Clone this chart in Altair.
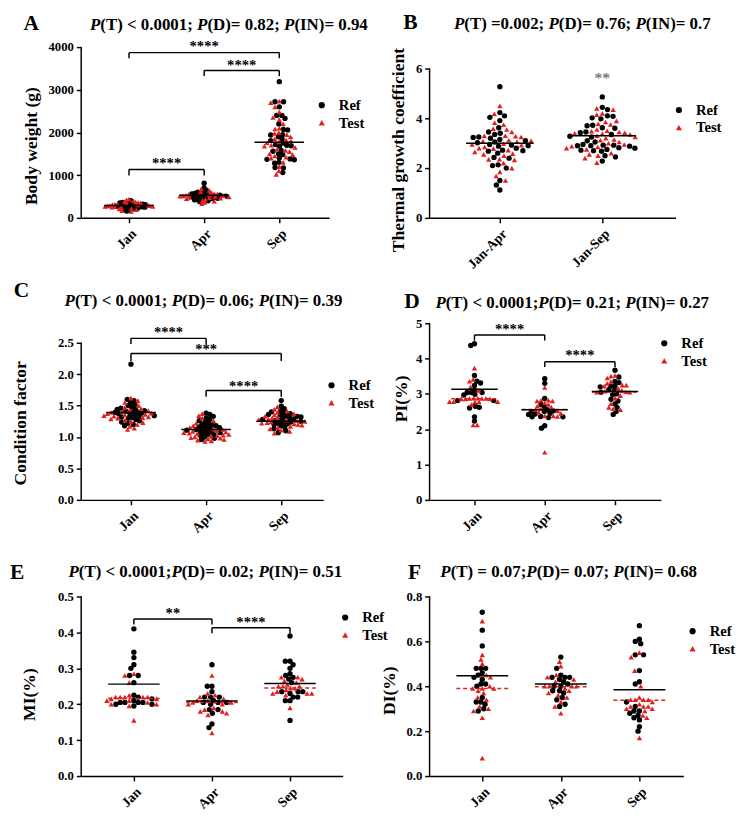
import json
import math
import altair as alt
import pandas as pd

SERIF = "Liberation Serif"
RED = "#e0201f"

CATS3 = ["Jan", "Apr", "Sep"]
CATS2 = ["Jan-Apr", "Jan-Sep"]

# ---------------- Panel A: body weight ----------------
A_JAN_REF = [160, 180, 200, 210, 220, 230, 240, 250, 250, 260, 260, 270, 270, 280, 280, 290, 290,
             300, 300, 310, 310, 320, 320, 330, 340, 350, 360, 380, 400]
A_JAN_TEST = [150, 170, 190, 210, 220, 240, 250, 260, 265, 270, 280, 285, 290, 300, 305, 310, 320,
              330, 340, 350, 360, 370, 380, 400, 420, 440]
A_APR_REF = [810, 700, 650, 620, 600, 580, 570, 560, 550, 540, 530, 530, 520, 510, 500, 500, 490,
             480, 470, 460, 450, 440, 420, 400, 380]
A_APR_TEST = [680, 640, 610, 590, 570, 560, 550, 540, 530, 520, 515, 510, 500, 490, 480, 470, 460,
              450, 430, 410, 390, 360, 330]
A_SEP_REF = [3190, 2720, 2720, 2600, 2400, 2400, 2330, 2200, 2070, 2060, 1950, 1940, 1900, 1850,
             1810, 1750, 1720, 1700, 1690, 1680, 1580, 1560, 1500, 1480, 1400, 1380, 1370, 1360,
             1300, 1280, 1180, 1170, 1060]
A_SEP_TEST = [2730, 2700, 2600, 2480, 2350, 2300, 2200, 2100, 2080, 2000, 1980, 1950, 1900, 1850,
              1820, 1800, 1780, 1760, 1700, 1680, 1650, 1600, 1580, 1550, 1500, 1480, 1450, 1420,
              1400, 1300, 1200, 1100, 1020]
A_MEAN_REF = [290, 530, 1770]
A_YTICKS = [0, 1000, 2000, 3000, 4000]
A_BRACKETS = [(0, 2, 3870, 3740, 4060, "****"), (1, 2, 3450, 3320, 3625, "****"),
              (0, 1, 1135, 995, 1325, "****")]

# ---------------- Panel B: thermal growth coefficient ----------------
B_JA_REF = [5.27, 4.23, 4.10, 4.04, 3.91, 3.62, 3.45, 3.40, 3.35, 3.25, 3.23, 3.20, 3.15, 3.10,
            3.05, 3.02, 2.95, 2.92, 2.90, 2.88, 2.80, 2.72, 2.70, 2.68, 2.60, 2.43, 2.40, 2.13,
            2.10, 2.00, 1.50, 1.32, 1.12]
B_JA_TEST = [4.50, 4.18, 3.82, 3.74, 3.58, 3.55, 3.45, 3.30, 3.30, 3.28, 3.25, 3.12, 3.10, 3.08,
             3.06, 2.98, 2.95, 2.92, 2.85, 2.80, 2.78, 2.72, 2.65, 2.58, 2.55, 2.50, 2.36, 2.35,
             2.33, 2.20, 2.00, 1.85, 1.68, 1.50]
B_JS_REF = [4.86, 4.44, 4.35, 4.10, 4.08, 4.02, 3.98, 3.72, 3.70, 3.62, 3.60, 3.45, 3.42, 3.35,
            3.28, 3.25, 3.10, 3.05, 2.95, 2.92, 2.92, 2.90, 2.90, 2.88, 2.82, 2.80, 2.75, 2.72,
            2.70, 2.68, 2.50, 2.45, 2.28]
B_JS_TEST = [4.40, 4.35, 4.20, 4.15, 3.90, 3.85, 3.78, 3.75, 3.55, 3.50, 3.48, 3.45, 3.42, 3.40,
             3.38, 3.35, 3.30, 3.25, 3.20, 3.15, 3.12, 3.05, 3.00, 2.95, 2.88, 2.85, 2.80, 2.75,
             2.60, 2.55, 2.50, 2.40, 2.22]
B_MEAN_REF = [3.0, 3.3]
B_YTICKS = [0, 2, 4, 6]

# ---------------- Panel C: condition factor ----------------
C_JAN_REF = [2.16, 1.60, 1.58, 1.55, 1.52, 1.50, 1.48, 1.46, 1.45, 1.44, 1.42, 1.41, 1.40, 1.40,
             1.39, 1.38, 1.37, 1.36, 1.35, 1.34, 1.33, 1.32, 1.31, 1.30, 1.28, 1.26, 1.24, 1.22,
             1.20, 1.18]
C_JAN_TEST = [1.62, 1.58, 1.55, 1.50, 1.47, 1.45, 1.43, 1.42, 1.40, 1.39, 1.38, 1.37, 1.36, 1.35,
              1.34, 1.33, 1.32, 1.31, 1.30, 1.29, 1.27, 1.25, 1.23, 1.20, 1.17, 1.14, 1.12]
C_APR_REF = [1.38, 1.36, 1.33, 1.30, 1.28, 1.26, 1.24, 1.22, 1.20, 1.19, 1.18, 1.17, 1.16, 1.15,
             1.14, 1.13, 1.12, 1.11, 1.10, 1.09, 1.08, 1.07, 1.06, 1.05, 1.04, 1.02, 1.00, 0.98,
             0.96]
C_APR_TEST = [1.37, 1.34, 1.30, 1.26, 1.22, 1.18, 1.15, 1.13, 1.12, 1.10, 1.09, 1.08, 1.07, 1.06,
              1.05, 1.04, 1.03, 1.02, 1.01, 1.00, 0.99, 0.98, 0.97, 0.96, 0.95, 0.94, 0.93]
C_SEP_REF = [1.58, 1.49, 1.45, 1.42, 1.40, 1.38, 1.37, 1.36, 1.35, 1.34, 1.33, 1.32, 1.31, 1.30,
             1.29, 1.28, 1.27, 1.26, 1.25, 1.24, 1.23, 1.22, 1.21, 1.20, 1.18, 1.16, 1.13, 1.10,
             1.07]
C_SEP_TEST = [1.48, 1.44, 1.41, 1.39, 1.37, 1.35, 1.33, 1.31, 1.30, 1.29, 1.28, 1.27, 1.26, 1.25,
              1.24, 1.23, 1.22, 1.21, 1.20, 1.19, 1.17, 1.15, 1.13, 1.11, 1.09, 1.06]
C_MEAN_REF = [1.39, 1.12, 1.25]
C_YTICKS = [0, 0.5, 1.0, 1.5, 2.0, 2.5]
C_BRACKETS = [(0, 1, 2.57, 2.48, 2.70, "****"), (0, 2, 2.33, 2.21, 2.43, "***"),
              (1, 2, 1.74, 1.64, 1.84, "****")]

# ---------------- Panel D: PI (%) ----------------
D_JAN_REF = [4.42, 4.37, 3.52, 3.36, 3.31, 3.24, 3.11, 3.04, 3.04, 3.04, 2.99, 2.97, 2.81, 2.81,
             2.65, 2.62, 2.60, 2.35, 2.23]
D_JAN_TEST = [3.73, 3.41, 3.36, 3.20, 3.10, 2.88, 2.88, 2.87, 2.87, 2.87, 2.86, 2.86, 2.86, 2.78,
              2.78, 2.78, 2.77, 2.77, 2.70, 2.12, 2.12]
D_APR_REF = [3.43, 3.30, 2.87, 2.70, 2.62, 2.55, 2.52, 2.50, 2.50, 2.45, 2.43, 2.42, 2.36, 2.35,
             2.35, 2.33, 2.10, 2.03]
D_APR_TEST = [3.18, 2.82, 2.82, 2.80, 2.80, 2.75, 2.70, 2.65, 2.62, 2.58, 2.55, 2.52, 2.48, 2.45,
              2.38, 2.38, 2.36, 1.35]
D_SEP_REF = [3.67, 3.48, 3.35, 3.32, 3.22, 3.22, 3.20, 3.12, 3.10, 3.05, 3.00, 2.98, 2.85, 2.80,
             2.72, 2.62, 2.50, 2.42]
D_SEP_TEST = [3.52, 3.50, 3.45, 3.35, 3.30, 3.25, 3.25, 3.22, 3.15, 3.10, 3.08, 3.06, 3.05, 3.05,
              2.95, 2.88, 2.72, 2.62, 2.58, 2.55]
D_MEAN_REF = [3.13, 2.55, 3.07]
D_MEAN_TEST = [2.86, 2.56, 3.05]
D_YTICKS = [0, 1, 2, 3, 4, 5]
D_BRACKETS = [(0, 1, 4.67, 4.51, 4.88, "****"), (1, 2, 3.91, 3.76, 4.14, "****")]

# ---------------- Panel E: MI (%) ----------------
E_JAN_REF = [0.41, 0.345, 0.33, 0.31, 0.30, 0.28, 0.28, 0.26, 0.225, 0.22, 0.215, 0.21, 0.205,
             0.205, 0.205, 0.205, 0.20, 0.20, 0.195]
E_JAN_TEST = [0.285, 0.28, 0.26, 0.225, 0.22, 0.22, 0.22, 0.22, 0.22, 0.215, 0.215, 0.21, 0.21,
              0.205, 0.20, 0.20, 0.195, 0.155]
E_APR_REF = [0.31, 0.25, 0.25, 0.235, 0.22, 0.22, 0.22, 0.21, 0.205, 0.205, 0.205, 0.20, 0.185,
             0.185, 0.175, 0.145, 0.135]
E_APR_TEST = [0.28, 0.23, 0.225, 0.22, 0.215, 0.21, 0.21, 0.205, 0.205, 0.20, 0.20, 0.19, 0.185,
              0.18, 0.18, 0.175, 0.17, 0.12]
E_SEP_REF = [0.39, 0.32, 0.32, 0.31, 0.30, 0.285, 0.28, 0.275, 0.27, 0.26, 0.235, 0.235, 0.235,
             0.23, 0.22, 0.22, 0.21, 0.21, 0.155]
E_SEP_TEST = [0.275, 0.275, 0.27, 0.265, 0.26, 0.255, 0.25, 0.25, 0.25, 0.245, 0.245, 0.24, 0.235,
              0.23, 0.23, 0.23, 0.225, 0.19]
E_MEAN_REF = [0.256, 0.209, 0.258]
E_MEAN_TEST = [0.216, 0.205, 0.245]
E_YTICKS = [0, 0.1, 0.2, 0.3, 0.4, 0.5]
E_BRACKETS = [(0, 1, 0.4375, 0.422, 0.458, "**"), (1, 2, 0.413, 0.398, 0.434, "****")]

# ---------------- Panel F: DI (%) ----------------
F_JAN_REF = [0.73, 0.65, 0.58, 0.48, 0.48, 0.48, 0.46, 0.45, 0.44, 0.43, 0.41, 0.41, 0.40, 0.35,
             0.33, 0.33, 0.32, 0.30, 0.29]
F_JAN_TEST = [0.69, 0.54, 0.52, 0.50, 0.45, 0.44, 0.40, 0.39, 0.39, 0.39, 0.38, 0.37, 0.35, 0.34,
              0.31, 0.30, 0.29, 0.26, 0.08]
F_APR_REF = [0.53, 0.48, 0.45, 0.44, 0.44, 0.44, 0.43, 0.42, 0.41, 0.40, 0.40, 0.38, 0.38, 0.37,
             0.35, 0.34, 0.32, 0.31]
F_APR_TEST = [0.51, 0.49, 0.45, 0.44, 0.43, 0.42, 0.40, 0.40, 0.40, 0.40, 0.39, 0.38, 0.37, 0.36,
              0.35, 0.33, 0.31, 0.28]
F_SEP_REF = [0.67, 0.61, 0.60, 0.59, 0.54, 0.54, 0.47, 0.42, 0.41, 0.33, 0.31, 0.29, 0.29, 0.28,
             0.27, 0.26, 0.25, 0.22, 0.20]
F_SEP_TEST = [0.55, 0.53, 0.47, 0.40, 0.35, 0.34, 0.34, 0.34, 0.34, 0.33, 0.32, 0.31, 0.31, 0.31,
              0.30, 0.30, 0.29, 0.27, 0.26, 0.17]
F_MEAN_REF = [0.447, 0.410, 0.385]
F_MEAN_TEST = [0.390, 0.398, 0.338]
F_YTICKS = [0, 0.2, 0.4, 0.6, 0.8]

TITLES = ["P(T) < 0.0001; P(D)= 0.82; P(IN)= 0.94",
          "P(T) =0.002; P(D)= 0.76; P(IN)= 0.7",
          "P(T) < 0.0001; P(D)= 0.06; P(IN)= 0.39",
          "P(T) < 0.0001;P(D)= 0.21; P(IN)= 0.27",
          "P(T) < 0.0001;P(D)= 0.02; P(IN)= 0.51",
          "P(T) = 0.07;P(D)= 0.07; P(IN)= 0.68"]

PANELS = [
    dict(letter="A", title=TITLES[0], ytitle="Body weight (g)",
         cats=CATS3, ref=[A_JAN_REF, A_APR_REF, A_SEP_REF], test=[A_JAN_TEST, A_APR_TEST, A_SEP_TEST],
         mref=A_MEAN_REF, mtest=None, yticks=A_YTICKS, yfmt="d", brackets=A_BRACKETS, extra=None,
         w=254, h=175, off=49, step=77, ytop=4000, ypx=175, diam=[2.6, 3.1, 4.4],
         ttl=(9, -17), let=(-59, -17), leg=(239, 52), ytt=(-51, 101)),
    dict(letter="B", title=TITLES[1], ytitle="Thermal growth coefficient",
         cats=CATS2, ref=[B_JA_REF, B_JS_REF], test=[B_JA_TEST, B_JS_TEST],
         mref=B_MEAN_REF, mtest=None, yticks=B_YTICKS, yfmt="d", brackets=[], extra=(1, 5.70, "**"),
         w=252, h=175, off=72, step=105, ytop=6, ypx=153, diam=[5.8, 5.8],
         ttl=(25, -19), let=(-27, -19), leg=(248, 57), ytt=(-32, 105)),
    dict(letter="C", title=TITLES[2], ytitle="Condition factor",
         cats=CATS3, ref=[C_JAN_REF, C_APR_REF, C_SEP_REF], test=[C_JAN_TEST, C_APR_TEST, C_SEP_TEST],
         mref=C_MEAN_REF, mtest=None, yticks=C_YTICKS, yfmt=".1f", brackets=C_BRACKETS, extra=None,
         w=248, h=190, off=51, step=77, ytop=2.5, ypx=161, diam=[4.0, 4.0, 4.0],
         ttl=(-17, -9), let=(-69, -18), leg=(249, 65), ytt=(-62, 111)),
    dict(letter="D", title=TITLES[3], ytitle="PI(%)",
         cats=CATS3, ref=[D_JAN_REF, D_APR_REF, D_SEP_REF], test=[D_JAN_TEST, D_APR_TEST, D_SEP_TEST],
         mref=D_MEAN_REF, mtest=D_MEAN_TEST, yticks=D_YTICKS, yfmt="d", brackets=D_BRACKETS, extra=None,
         w=237, h=190, off=46, step=72, ytop=5, ypx=181, diam=[4.2, 4.2, 4.2],
         ttl=(6, -7), let=(-26, -7), leg=(233, 22), ytt=(-29, 86)),
    dict(letter="E", title=TITLES[4], ytitle="MI(%)",
         cats=CATS3, ref=[E_JAN_REF, E_APR_REF, E_SEP_REF], test=[E_JAN_TEST, E_APR_TEST, E_SEP_TEST],
         mref=E_MEAN_REF, mtest=E_MEAN_TEST, yticks=E_YTICKS, yfmt=".1f", brackets=E_BRACKETS, extra=None,
         w=268, h=184, off=54, step=80, ytop=0.5, ypx=184, diam=[4.8, 4.8, 4.8],
         ttl=(-13, -20), let=(-73, -18), leg=(263, 14), ytt=(-53, 100)),
    dict(letter="F", title=TITLES[5], ytitle="DI(%)",
         cats=CATS3, ref=[F_JAN_REF, F_APR_REF, F_SEP_REF], test=[F_JAN_TEST, F_APR_TEST, F_SEP_TEST],
         mref=F_MEAN_REF, mtest=F_MEAN_TEST, yticks=F_YTICKS, yfmt=".1f", brackets=[], extra=None,
         w=260, h=184, off=54, step=80.5, ytop=0.8, ypx=184, diam=[4.8, 4.8, 4.8],
         ttl=(11, -20), let=(-22, -18), leg=(262, 28), ytt=(-41, 96)),
]

# Advance widths of Times/Liberation Serif Bold (per 1000 em) used to lay out mixed-style titles
TB_WIDTH = {" ": 250, "(": 333, ")": 333, "<": 570, "=": 570, ";": 333, ".": 250,
            "P": 611, "T": 667, "D": 722, "I": 389, "N": 722}
TITLE_SIZE = 17.3


def text_width(s, size):
    return sum(TB_WIDTH.get(ch, 500) for ch in s) * size / 1000.0


def swarm(vals, ppu, diam):
    """Beeswarm layout: horizontal pixel offsets so markers do not overlap."""
    order = sorted(range(len(vals)), key=lambda i: -vals[i])
    placed = []
    offs = [0.0] * len(vals)
    for i in order:
        y = vals[i] * ppu
        forb = []
        for px, py in placed:
            dy = abs(py - y)
            if dy < diam:
                dx = math.sqrt(diam * diam - dy * dy)
                forb.append((px - dx, px + dx))
        cands = [0.0] + [a for a, b in forb] + [b for a, b in forb]
        cands.sort(key=lambda c: (abs(c), c))
        for c in cands:
            if all(not (a + 1e-6 < c < b - 1e-6) for a, b in forb):
                break
        placed.append((c, y))
        offs[i] = c
    return offs


def title_layers(title, x0, y0):
    out = []
    parts = title.split("P")
    x = 0.0
    for k, part in enumerate(parts):
        segs = []
        if k > 0:
            segs.append(("P", True))
        if part:
            segs.append((part, False))
        for txt, ital in segs:
            out.append(alt.Chart(pd.DataFrame([{"t": txt}])).mark_text(
                font=SERIF, fontSize=TITLE_SIZE, fontWeight="bold",
                fontStyle="italic" if ital else "normal", align="left", baseline="alphabetic",
                color="black", dx=round(x, 2)
            ).encode(x=alt.value(x0), y=alt.value(y0), text="t:N"))
            x += text_width(txt, TITLE_SIZE)
    return out


def make_panel(p):
    lo = -p["off"] / p["step"]
    hi = (p["w"] - p["off"]) / p["step"]
    ydom = p["ytop"] * p["h"] / p["ypx"]
    ppu = p["ypx"] / p["ytop"]

    rows = []
    for ci in range(len(p["cats"])):
        vals = list(p["ref"][ci]) + list(p["test"][ci])
        grps = ["Ref"] * len(p["ref"][ci]) + ["Test"] * len(p["test"][ci])
        offs = swarm(vals, ppu, p["diam"][ci])
        for v, g, o in zip(vals, grps, offs):
            rows.append({"xp": ci + o / p["step"], "v": v, "g": g})
    pts = pd.DataFrame(rows)

    xs = alt.Scale(domain=[lo, hi], nice=False, zero=False)
    ys = alt.Scale(domain=[0, ydom], nice=False, zero=False)
    xaxis = alt.Axis(values=list(range(len(p["cats"]))),
                     labelExpr=json.dumps(p["cats"]) + "[round(datum.value)]",
                     labelAngle=-45, labelAlign="right", labelBaseline="top", labelPadding=4,
                     labelFontSize=14, title=None, grid=False)
    yaxis = alt.Axis(values=p["yticks"], format=p["yfmt"], domain=False, grid=False,
                     title=p["ytitle"], titleAngle=-90, titleX=p["ytt"][0], titleY=p["ytt"][1],
                     titleAlign="center", titleBaseline="middle")
    X = alt.X("xp:Q", scale=xs, axis=xaxis)
    Y = alt.Y("v:Q", scale=ys, axis=yaxis)

    leg = alt.Legend(orient="none", legendX=p["leg"][0], legendY=p["leg"][1],
                     title=None, labelFont=SERIF, labelFontSize=15,
                     labelFontWeight="bold", symbolSize=40, padding=0,
                     labelOffset=10, rowPadding=2)
    points = alt.Chart(pts).mark_point(filled=True, size=30, opacity=1, strokeWidth=0).encode(
        x=X, y=Y,
        color=alt.Color("g:N", scale=alt.Scale(domain=["Ref", "Test"], range=["#000000", RED]),
                        legend=leg),
        shape=alt.Shape("g:N", scale=alt.Scale(domain=["Ref", "Test"], range=["circle", "triangle-up"]),
                        legend=leg),
    )

    axline = alt.Chart(pd.DataFrame([{"xp": lo, "xp2": lo, "v": 0, "v2": p["ytop"]}])).mark_rule(
        color="black", strokeWidth=1.5).encode(x=X, x2="xp2", y=Y, y2="v2")

    mref = pd.DataFrame([{"xp": i - 0.33, "xp2": i + 0.33, "v": m, "v2": m}
                         for i, m in enumerate(p["mref"])])
    layers = [points, axline]
    if p["mtest"]:
        mt = pd.DataFrame([{"xp": i - 0.33, "xp2": i + 0.33, "v": m, "v2": m}
                           for i, m in enumerate(p["mtest"])])
        layers.append(alt.Chart(mt).mark_rule(color=RED, strokeWidth=1.5, strokeDash=[4, 3]).encode(
            x=X, x2="xp2", y=Y, y2="v2"))
    layers.append(alt.Chart(mref).mark_rule(color="black", strokeWidth=1.5).encode(
        x=X, x2="xp2", y=Y, y2="v2"))

    if p["brackets"]:
        seg = []
        stars = []
        for a, b, yl, yleg, ys_, txt in p["brackets"]:
            seg.append({"xp": a, "xp2": b, "v": yl, "v2": yl})
            seg.append({"xp": a, "xp2": a, "v": yl, "v2": yleg})
            seg.append({"xp": b, "xp2": b, "v": yl, "v2": yleg})
            stars.append({"xp": (a + b) / 2, "v": ys_, "t": txt})
        layers.append(alt.Chart(pd.DataFrame(seg)).mark_rule(color="black", strokeWidth=1.5).encode(
            x=X, x2="xp2", y=Y, y2="v2"))
        layers.append(alt.Chart(pd.DataFrame(stars)).mark_text(
            font=SERIF, fontSize=15, fontWeight="bold", color="black", baseline="alphabetic", dy=7
        ).encode(x=X, y=Y, text="t:N"))
    if p["extra"]:
        xi, yv, txt = p["extra"]
        layers.append(alt.Chart(pd.DataFrame([{"xp": xi, "v": yv, "t": txt}])).mark_text(
            font=SERIF, fontSize=16, fontWeight="bold", color="#7a7a7a", baseline="alphabetic", dy=7
        ).encode(x=X, y=Y, text="t:N"))

    layers += title_layers(p["title"], p["ttl"][0], p["ttl"][1])
    layers.append(alt.Chart(pd.DataFrame([{"t": p["letter"]}])).mark_text(
        font=SERIF, fontSize=22, fontWeight="bold", align="left", baseline="alphabetic", color="black"
    ).encode(x=alt.value(p["let"][0]), y=alt.value(p["let"][1]), text="t:N"))

    return alt.layer(*layers).properties(width=p["w"], height=p["h"])


charts = [make_panel(p) for p in PANELS]

chart = alt.concat(*charts, columns=2, spacing={"row": 99, "column": 89}, bounds="flush",
                   align="each").resolve_scale(color="independent", shape="independent")
chart = chart.properties(padding={"left": 2, "top": -7, "right": 0, "bottom": 0}).configure_view(
    stroke=None
).configure_axis(
    labelFont=SERIF, labelFontSize=13, labelFontWeight="bold", labelColor="black",
    titleFont=SERIF, titleFontSize=18, titleFontWeight="bold", titleColor="black",
    domainColor="black", domainWidth=1.5, tickColor="black", tickWidth=1.5, tickSize=5,
    labelPadding=3
)

chart.save("out.html", embed_options={"renderer": "svg", "actions": False})
